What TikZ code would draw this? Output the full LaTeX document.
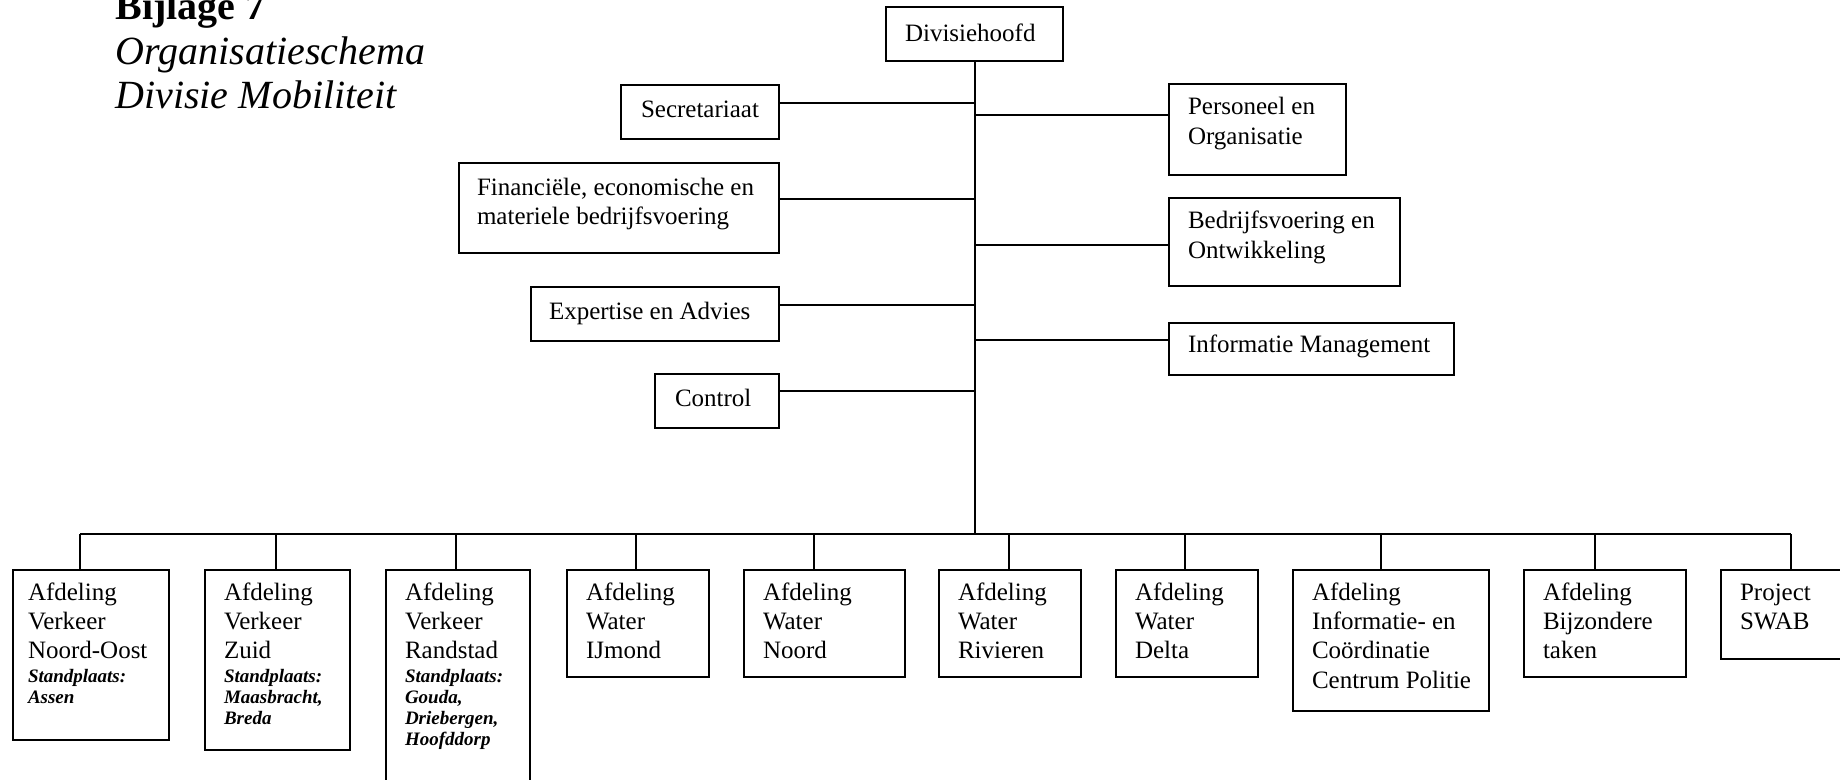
\documentclass[tikz,border=0pt]{standalone}
\usepackage{fontspec}
\setmainfont{Liberation Serif}
\tikzset{
  orgbox/.style={draw, line width=1pt, inner sep=0pt, anchor=north west},
  conn/.style={line width=1pt},
  titletext/.style={anchor=base west, inner sep=0pt},
}
\newcommand\bt[5][15pt]{\parbox[t][#3][t]{#2}{\fontsize{12.5}{14.7}\selectfont\raggedright\parindent=0pt\leftskip=#4\relax\rule{0pt}{#1}#5}}
\newcommand\standpl[1]{\par\vspace{1pt}{\fontsize{9.5}{10.6}\selectfont\bfseries\itshape #1\par}}
\begin{document}
\begin{tikzpicture}[x=0.5pt,y=-0.5pt]
\useasboundingbox (0,0) rectangle (1840,780);
% title
\node[titletext, font=\fontsize{20}{22.3}\selectfont\bfseries] (t1) at (115,20) {Bijlage 7};
\node[titletext, font=\fontsize{20}{22.3}\selectfont\itshape] (t2) at (115,64.5) {Organisatieschema};
\node[titletext, font=\fontsize{20}{22.3}\selectfont\itshape] (t3) at (115,109) {Divisie Mobiliteit};
% top boxes
\node[orgbox] (head) at (885,6) {\bt[17.5pt]{88.5pt}{27pt}{9.5pt}{Divisiehoofd}};
\node[orgbox] (sec) at (620,84) {\bt[16.2pt]{79pt}{27pt}{10pt}{Secretariaat}};
\node[orgbox] (po) at (1168,83) {\bt[15.5pt]{88.5pt}{45.5pt}{9.5pt}{Personeel en\\Organisatie}};
\node[orgbox] (fin) at (458,162) {\bt[16.2pt]{160pt}{45pt}{9pt}{Financiële, economische en\\materiele bedrijfsvoering}};
\node[orgbox] (bo) at (1168,197) {\bt[15.5pt]{115.5pt}{44pt}{9.5pt}{Bedrijfsvoering en\\Ontwikkeling}};
\node[orgbox] (ea) at (530,286) {\bt[16.5pt]{124pt}{27pt}{9pt}{Expertise en Advies}};
\node[orgbox] (im) at (1168,322) {\bt{142.5pt}{26pt}{9.5pt}{Informatie Management}};
\node[orgbox] (ctl) at (654,373) {\bt[16.2pt]{62pt}{27pt}{10pt}{Control}};
% trunk
\coordinate (bus) at (974,534);
\draw[conn] (head.south) -- (head.south |- bus);
\coordinate (jsec) at (974,103);
\coordinate (jpo) at (974,115);
\coordinate (jfin) at (974,199);
\coordinate (jbo) at (974,245);
\coordinate (jea) at (974,305);
\coordinate (jim) at (974,340);
\coordinate (jctl) at (974,391);
\draw[conn] (sec.east |- jsec) -- (jsec);
\draw[conn] (jpo) -- (po.west |- jpo);
\draw[conn] (fin.east |- jfin) -- (jfin);
\draw[conn] (jbo) -- (bo.west |- jbo);
\draw[conn] (ea.east |- jea) -- (jea);
\draw[conn] (jim) -- (im.west |- jim);
\draw[conn] (ctl.east |- jctl) -- (jctl);
% bottom boxes
\node[orgbox] (b1) at (12,569) {\bt{78pt}{85pt}{7.5pt}{Afdeling\\Verkeer\\Noord-Oost\standpl{Standplaats:\\Assen}}};
\node[orgbox] (b2) at (204,569) {\bt{72.5pt}{90pt}{9.5pt}{Afdeling\\Verkeer\\Zuid\standpl{Standplaats:\\Maasbracht,\\Breda}}};
\node[orgbox] (b3) at (385,569) {\bt{72pt}{112pt}{9.5pt}{Afdeling\\Verkeer\\Randstad\standpl{Standplaats:\\Gouda,\\Driebergen,\\Hoofddorp}}};
\node[orgbox] (b4) at (566,569) {\bt{71pt}{53.5pt}{9.5pt}{Afdeling\\Water\\IJmond}};
\node[orgbox] (b5) at (743,569) {\bt{80.5pt}{53.5pt}{9.5pt}{Afdeling\\Water\\Noord}};
\node[orgbox] (b6) at (938,569) {\bt{71pt}{53.5pt}{9.5pt}{Afdeling\\Water\\Rivieren}};
\node[orgbox] (b7) at (1115,569) {\bt{71pt}{53.5pt}{9.5pt}{Afdeling\\Water\\Delta}};
\node[orgbox] (b8) at (1292,569) {\bt{98pt}{70.5pt}{9.5pt}{Afdeling\\Informatie- en\\Coördinatie\\Centrum Politie}};
\node[orgbox] (b9) at (1523,569) {\bt{81pt}{53.5pt}{9.5pt}{Afdeling\\Bijzondere\\taken}};
\node[orgbox] (b10) at (1720,569) {\bt{64pt}{44.5pt}{9.5pt}{Project\\SWAB}};
% bus and drops
\coordinate (bl) at (80,534);
\coordinate (br) at (1791,534);
\draw[conn] (bl) -- (br);
\coordinate (d1) at (80,534);
\coordinate (d2) at (276,534);
\coordinate (d3) at (456,534);
\coordinate (d4) at (636,534);
\coordinate (d5) at (814,534);
\coordinate (d6) at (1009,534);
\coordinate (d7) at (1185,534);
\coordinate (d8) at (1381,534);
\coordinate (d9) at (1595,534);
\coordinate (d10) at (1791,534);
\foreach \i in {1,...,10} {\draw[conn] (d\i) -- (d\i |- b\i.north);}
\end{tikzpicture}
\end{document}
